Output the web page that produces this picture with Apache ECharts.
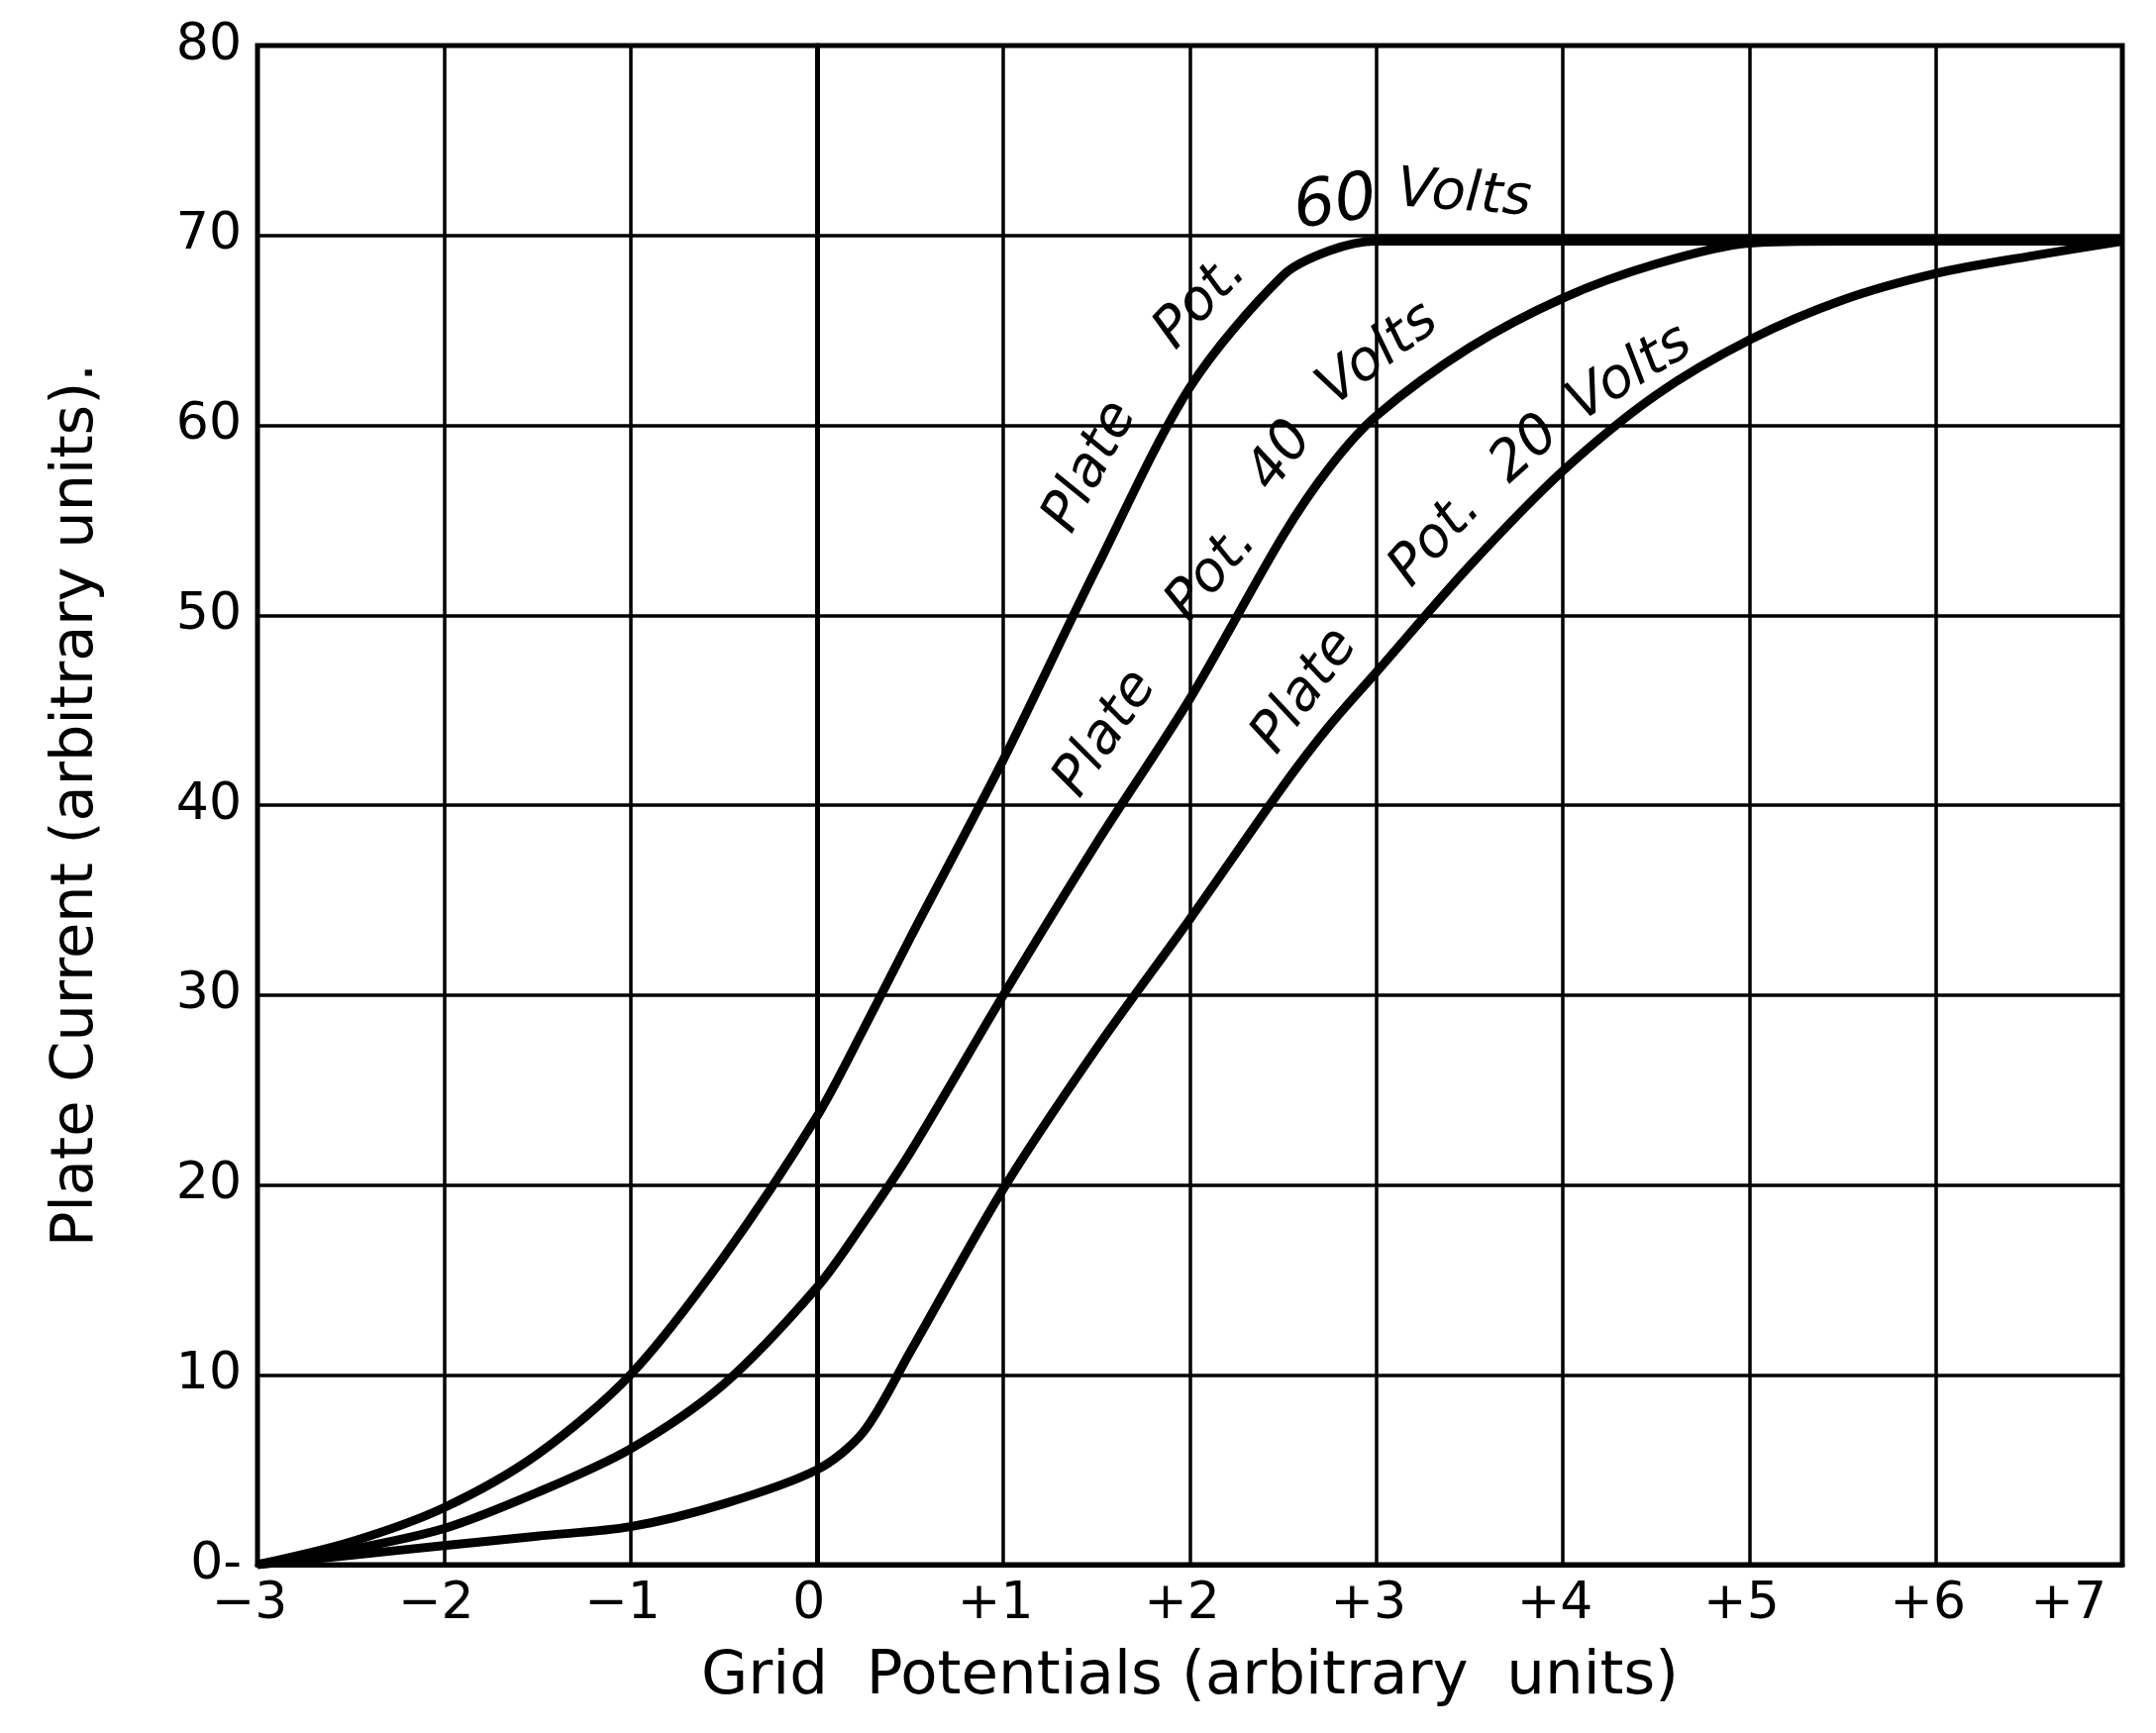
<!DOCTYPE html>
<html>
<head>
<meta charset="utf-8" />
<script src="https://cdn.jsdelivr.net/npm/echarts@6/dist/echarts.min.js"></script>
<style>
    html, body, #main {
        width: 100%;
        height: 100%;
        margin: 0;
        padding: 0;
        background: #fff;
    }
</style>
</head>
<body>
<div id="main"></div>
<script>
// grid potential (x) and plate current (y) readings for each plate potential
var gridPotentials = [-3, -2.5, -2, -1.5, -1, -0.5, 0, 0.25, 0.5, 1, 1.5, 2, 2.5, 2.75, 3, 3.5, 4, 4.5, 5, 5.5, 6, 6.5, 7];
var plate60 = [0, 1.2, 3, 5.8, 10, 16.2, 23.6, 28.2, 33, 42.4, 52.5, 62, 67.9, 69.2, 69.7, 69.7, 69.7, 69.7, 69.7, 69.7, 69.7, 69.7, 69.7];
var plate40 = [0, 0.8, 1.9, 3.8, 6.1, 9.5, 14.6, 18, 21.7, 30, 38, 45.6, 54.2, 57.8, 60.5, 64.1, 66.7, 68.5, 69.6, 69.7, 69.7, 69.7, 69.7];
var plate20 = [0, 0.5, 1.0, 1.5, 2.0, 3.2, 5.0, 7.0, 11.2, 19.8, 27.2, 34, 41, 44.2, 47, 52.6, 57.6, 61.6, 64.5, 66.6, 68, 68.9, 69.7];

var xTickLabels = ['\u22123', '\u22122', '\u22121', '0', '+1', '+2', '+3', '+4', '+5', '+6', '+7'];
var yTickLabels = ['0-', '10', '20', '30', '40', '50', '60', '70', '80'];

// words written along the curves: text, grid potential, plate current, angle (deg)
var curveWords = [
    ['Plate', 1.47, 57.8, 62],
    ['Pot.', 2.06, 66.5, 47],
    ['60', 2.78, 71.6, 8],
    ['Volts', 3.47, 72.1, -4],
    ['Plate', 1.55, 43.75, 56],
    ['Pot.', 2.12, 52.2, 50],
    ['40', 2.49, 58.35, 54],
    ['Volts', 3.01, 63.7, 37],
    ['Plate', 2.62, 46.0, 54],
    ['Pot.', 3.32, 54.0, 48],
    ['20', 3.80, 58.7, 42],
    ['Volts', 4.36, 62.7, 32]
];

var FONT = '"DejaVu Sans", sans-serif';

function pairs(ys) {
    return gridPotentials.map(function (x, i) { return [x, ys[i]]; });
}

function curve(name, ys) {
    return {
        name: name,
        type: 'line',
        data: pairs(ys),
        smooth: 0.3,
        showSymbol: false,
        lineStyle: { color: '#000', width: 9 },
        z: 5
    };
}

var chart = echarts.init(document.getElementById('main'));

chart.setOption({
    backgroundColor: '#fff',
    animation: false,
    grid: {
        left: 260,
        right: 34,
        top: 46,
        bottom: 170,
        show: true,
        borderColor: '#000',
        borderWidth: 5
    },
    xAxis: {
        type: 'value',
        min: -3,
        max: 7,
        interval: 1,
        name: 'Grid  Potentials (arbitrary  units)',
        nameLocation: 'middle',
        nameGap: 84,
        nameTextStyle: { fontFamily: FONT, fontSize: 61, color: '#000' },
        axisLine: { show: true, lineStyle: { color: '#000', width: 5 } },
        axisTick: { show: false },
        splitLine: { show: true, lineStyle: { color: '#000', width: 3.5 } },
        axisLabel: {
            fontFamily: FONT,
            fontSize: 52,
            color: '#000',
            margin: 14,
            padding: [0, 16, 0, 0],
            alignMaxLabel: 'right',
            formatter: function (v) { return xTickLabels[Math.round(v) + 3]; }
        }
    },
    yAxis: {
        type: 'value',
        min: 0,
        max: 80,
        interval: 10,
        name: 'Plate Current (arbitrary units).',
        nameLocation: 'middle',
        nameGap: 153,
        nameTextStyle: { fontFamily: FONT, fontSize: 59, color: '#000' },
        axisLine: { show: true, lineStyle: { color: '#000', width: 5 } },
        axisTick: { show: false },
        splitLine: { show: true, lineStyle: { color: '#000', width: 3.5 } },
        axisLabel: {
            fontFamily: FONT,
            fontSize: 52,
            color: '#000',
            margin: 16,
            formatter: function (v) { return yTickLabels[Math.round(v / 10)]; }
        }
    },
    series: [
        curve('Plate Pot. 60 Volts', plate60),
        curve('Plate Pot. 40 Volts', plate40),
        curve('Plate Pot. 20 Volts', plate20)
    ]
});

var words = curveWords.map(function (w) {
    var p = chart.convertToPixel({ gridIndex: 0 }, [w[1], w[2]]);
    return {
        type: 'text',
        x: p[0],
        y: p[1],
        rotation: w[3] * Math.PI / 180,
        z: 10,
        style: {
            text: w[0],
            fill: '#000',
            fontFamily: FONT,
            fontStyle: 'italic',
            // the "60" is lettered larger than the rest
            fontSize: w[0] === '60' ? 66 : 56,
            align: 'center',
            verticalAlign: 'middle',
            textAlign: 'center',
            textVerticalAlign: 'middle'
        }
    };
});

chart.setOption({ graphic: words });

window.onresize = function () {
    chart.resize();
};
</script>
</body>
</html>
